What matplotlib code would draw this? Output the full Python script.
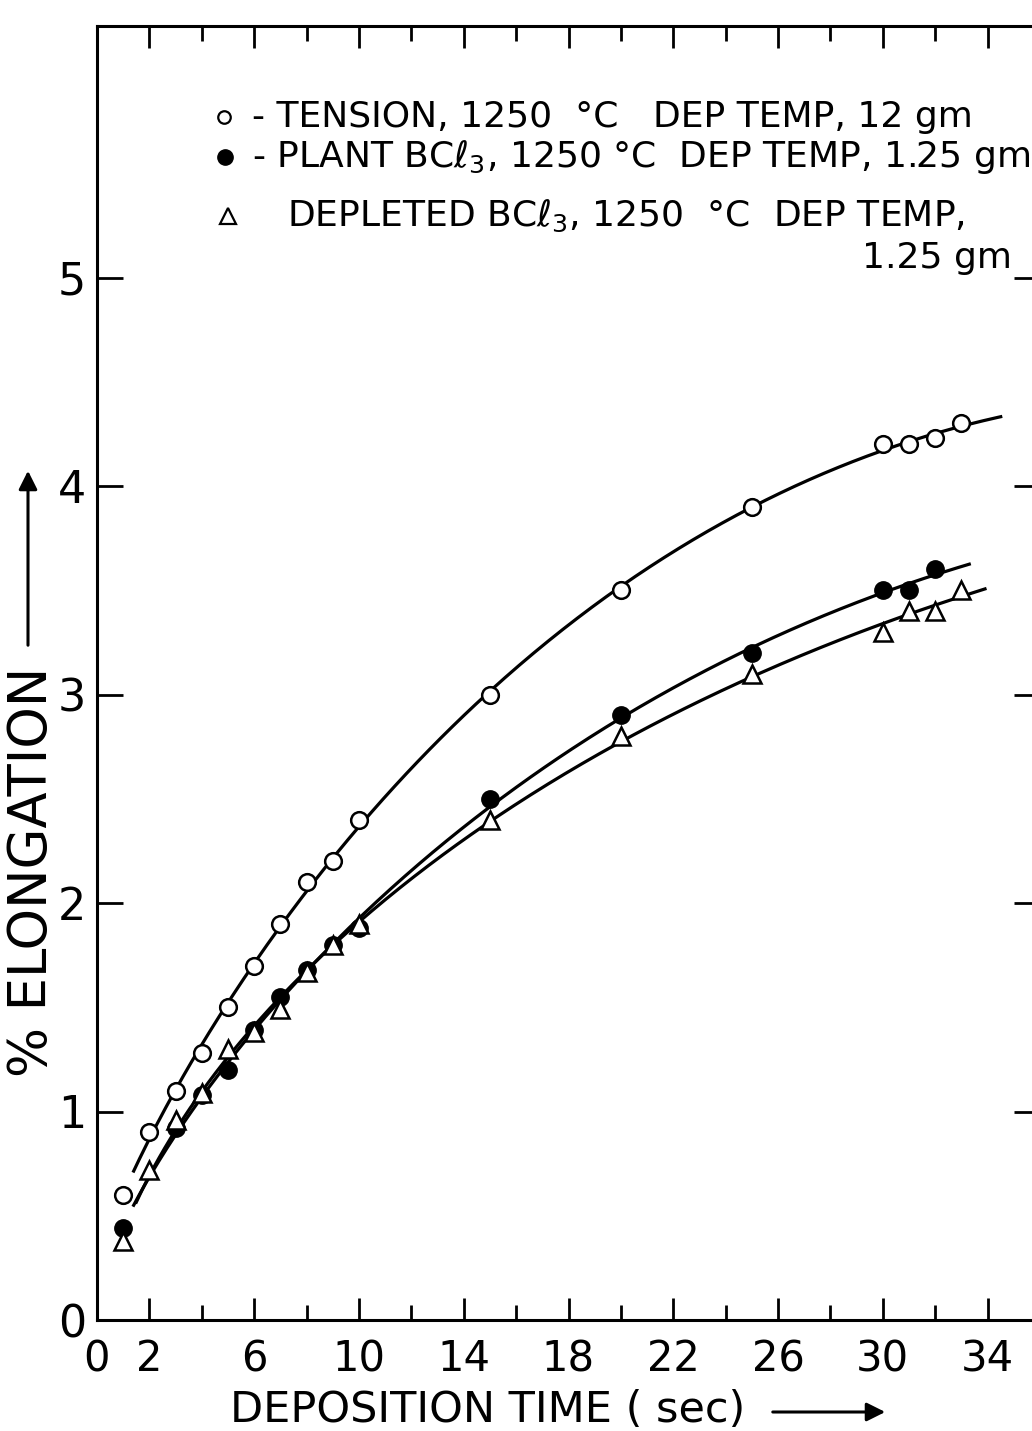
import numpy as np
import matplotlib
matplotlib.use('Agg')
import matplotlib.pyplot as plt
from matplotlib.patches import FancyArrowPatch
from matplotlib.ticker import FixedLocator

plt.rcParams['font.family'] = ['DejaVu Sans']
plt.rcParams['mathtext.fontset'] = 'dejavusans'

# data
t_tension = [1, 2, 3, 4, 5, 6, 7, 8, 9, 10, 15, 20, 25, 30, 31, 32, 33]
e_tension = [0.60, 0.90, 1.10, 1.28, 1.50, 1.70, 1.90, 2.10, 2.20, 2.40, 3.00, 3.50, 3.90, 4.20, 4.20, 4.23, 4.30]

t_plant = [1, 3, 4, 5, 6, 7, 8, 9, 10, 15, 20, 25, 30, 31, 32]
e_plant = [0.44, 0.92, 1.08, 1.20, 1.39, 1.55, 1.68, 1.80, 1.88, 2.50, 2.90, 3.20, 3.50, 3.50, 3.60]

t_depl = [1, 2, 3, 4, 5, 6, 7, 8, 9, 10, 15, 20, 25, 30, 31, 32, 33]
e_depl = [0.38, 0.72, 0.96, 1.09, 1.30, 1.38, 1.49, 1.67, 1.80, 1.90, 2.40, 2.80, 3.10, 3.30, 3.40, 3.40, 3.50]

# extent of the drawn fit curves
span_tension = (1.4, 34.5)
span_plant = (1.4, 33.3)
span_depl = (1.5, 33.9)

x_major = [0, 2, 6, 10, 14, 18, 22, 26, 30, 34]
x_minor = [4, 8, 12, 16, 20, 24, 28, 32]
y_major = [0, 1, 2, 3, 4, 5]

W, H = 1032, 1431
fig = plt.figure(figsize=(W / 100, H / 100), dpi=100)
ax = fig.add_axes([97 / W, 111 / H, 943 / W, 1294 / H])
ax.set_xlim(0, 36)
ax.set_ylim(0, 1294 / 208.5)


def fit_curve(t, e, span):
    # smooth least-squares curve in sqrt(t), like the hand-drawn fit
    s = np.sqrt(np.array(t, float))
    coef = np.polyfit(s, e, 3)
    tt = np.linspace(span[0], span[1], 300)
    return tt, np.polyval(coef, np.sqrt(tt))


for t, e, span in [(t_tension, e_tension, span_tension),
                   (t_plant, e_plant, span_plant),
                   (t_depl, e_depl, span_depl)]:
    tt, ee = fit_curve(t, e, span)
    ax.plot(tt, ee, color='black', lw=2.3, zorder=2)

ax.plot(t_tension, e_tension, 'o', ms=12, mfc='white', mec='black', mew=1.8, zorder=3)
ax.plot(t_plant, e_plant, 'o', ms=12.5, mfc='black', mec='black', zorder=3)
ax.plot(t_depl, e_depl, '^', ms=13, mfc='white', mec='black', mew=1.8, zorder=4)

for sp in ax.spines.values():
    sp.set_linewidth(2.2)

ax.xaxis.set_major_locator(FixedLocator(x_major))
ax.xaxis.set_minor_locator(FixedLocator(x_minor))
ax.yaxis.set_major_locator(FixedLocator(y_major))
ax.set_xticklabels([str(v) for v in x_major])
ax.set_yticklabels([str(v) for v in y_major])
ax.tick_params(axis='x', which='major', direction='in', top=True, length=16, width=2, pad=13, labelsize=30)
ax.tick_params(axis='x', which='minor', direction='in', top=True, length=11, width=2)
ax.tick_params(axis='y', which='major', direction='in', right=True, length=19, width=2, pad=8, labelsize=32)

# legend, lettered on the sheet
ax_y = lambda py: 1 - (py - 26) / 1294
ax.plot([(224 - 97) / 943], [ax_y(117)], 'o', ms=9, mfc='white', mec='black', mew=1.6,
        transform=ax.transAxes, clip_on=False)
ax.plot([(225 - 97) / 943], [ax_y(157)], 'o', ms=11, mfc='black', mec='black',
        transform=ax.transAxes, clip_on=False)
ax.plot([(228 - 97) / 943], [ax_y(216)], '^', ms=12, mfc='white', mec='black', mew=1.6,
        transform=ax.transAxes, clip_on=False)

fs = 26
fig.text(252 / W, 1 - 117 / H, '- TENSION, 1250  °C   DEP TEMP, 12 gm', fontsize=fs, va='center')
fig.text(252 / W, 1 - 157 / H, '- PLANT BCℓ$_3$, 1250 °C  DEP TEMP, 1.25 gm', fontsize=fs, va='center')
fig.text(287 / W, 1 - 216 / H, 'DEPLETED BCℓ$_3$, 1250  °C  DEP TEMP,', fontsize=fs, va='center')
fig.text(1012 / W, 1 - 258 / H, '1.25 gm', fontsize=fs, va='center', ha='right')

# axis titles with arrows
fig.text(488 / W, 1 - 1410 / H, 'DEPOSITION TIME ( sec)', fontsize=31, ha='center', va='center')
fig.add_artist(FancyArrowPatch(
    (770 / W, 1 - 1412 / H), (888 / W, 1 - 1412 / H), transform=fig.transFigure,
    arrowstyle='-|>', mutation_scale=28, lw=2.2, color='black'))
fig.text(32 / W, 1 - 872 / H, '% ELONGATION', fontsize=38, rotation=90, ha='center', va='center')
fig.add_artist(FancyArrowPatch(
    (28 / W, 1 - 648 / H), (28 / W, 1 - 468 / H), transform=fig.transFigure,
    arrowstyle='-|>', mutation_scale=28, lw=2.2, color='black'))

fig.savefig('out.png', dpi=100)
